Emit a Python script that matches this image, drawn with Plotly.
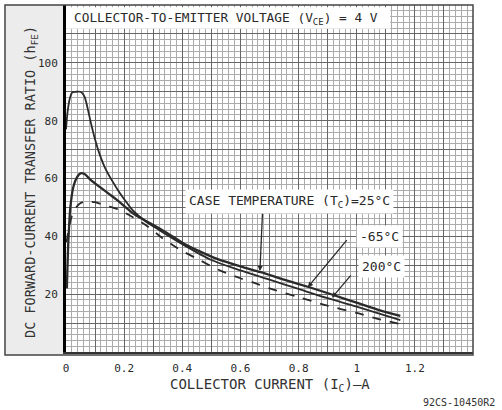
import plotly.graph_objects as go

# ---- data ----
x_200 = [0, 0.006, 0.014, 0.022, 0.035, 0.048, 0.056, 0.065, 0.075, 0.085, 0.1, 0.117,
         0.135, 0.16, 0.185, 0.21, 0.23, 0.27, 0.32, 0.4, 0.5, 0.6, 0.7, 0.8, 0.9, 1.0, 1.1, 1.15]
y_200 = [77, 83.5, 88, 89.8, 90, 90, 89.5, 88, 84, 79.5, 73.5, 68,
         63.5, 59, 55, 51.5, 49, 45.5, 42.2, 37.3, 31.8, 28.2, 25.0, 21.8, 18.6, 15.7, 12.6, 11]

x_25 = [0.003, 0.008, 0.015, 0.025, 0.038, 0.05, 0.065, 0.085, 0.117, 0.15, 0.176, 0.23, 0.29,
        0.35, 0.4, 0.46, 0.52, 0.6, 0.67, 0.75, 0.84, 0.92, 1.01, 1.08, 1.15]
y_25 = [22, 38, 50, 57, 60.5, 61.8, 61.5, 59.5, 57, 54.5, 52.5, 48, 44.5,
        41, 37.8, 34.8, 32.2, 29.6, 27.6, 25, 22.3, 19.7, 16.7, 14.4, 12.5]

x_m65 = [0.002, 0.01, 0.02, 0.035, 0.05, 0.065, 0.08, 0.1, 0.12, 0.15, 0.18, 0.23, 0.28, 0.33,
         0.39, 0.45, 0.53, 0.6, 0.645, 0.7, 0.8, 0.9, 1.0, 1.08, 1.15]
y_m65 = [38, 43, 47, 50, 51.5, 52, 52, 51.8, 51.2, 50.3, 49.3, 46.6, 43.5, 39.5,
         35.5, 32.3, 28.2, 25.5, 24, 22, 19, 16, 13.5, 11.3, 9.7]

x_tickvals = [0, 0.1, 0.2, 0.3, 0.4, 0.5, 0.6, 0.7, 0.8, 0.9, 1.0, 1.1, 1.2, 1.3, 1.4]
x_ticktext = ["0", " ", "0.2", " ", "0.4", " ", "0.6", " ", "0.8", " ", "1", " ", "1.2", " ", " "]
y_tickvals = [0, 10, 20, 30, 40, 50, 60, 70, 80, 90, 100, 110, 120]
y_ticktext = [" ", " ", "20", " ", "40", " ", "60", " ", "80", " ", "100", " ", " "]

ink = "#2a2a2a"
mono = "DejaVu Sans Mono"

fig = go.Figure()
fig.add_trace(go.Scatter(x=x_200, y=y_200, mode="lines",
                         line=dict(color=ink, width=1.8, shape="spline", smoothing=0.8),
                         name="200°C", showlegend=False))
fig.add_trace(go.Scatter(x=x_25, y=y_25, mode="lines",
                         line=dict(color=ink, width=2.3, shape="spline", smoothing=0.8),
                         name="25°C", showlegend=False))
fig.add_trace(go.Scatter(x=x_m65, y=y_m65, mode="lines",
                         line=dict(color=ink, width=1.8, dash="dash", shape="spline", smoothing=0.8),
                         name="-65°C", showlegend=False))

fig.update_layout(
    width=502, height=410,
    margin=dict(l=66, r=29, t=5, b=58),
    paper_bgcolor="white", plot_bgcolor="white",
    font=dict(family=mono, color=ink, size=11),
    xaxis=dict(range=[0, 1.4], tickvals=x_tickvals, ticktext=x_ticktext,
               showgrid=True, gridcolor="#666666", gridwidth=1,
               minor=dict(dtick=0.02, showgrid=True, gridcolor="#acacac", gridwidth=1),
               zeroline=False, showline=True, linecolor="#333", linewidth=1.5,
               ticks="", ticklabelstandoff=5, tickfont=dict(size=11, family=mono, color=ink)),
    yaxis=dict(range=[0, 120], tickvals=y_tickvals, ticktext=y_ticktext,
               showgrid=True, gridcolor="#666666", gridwidth=1,
               minor=dict(dtick=2, showgrid=True, gridcolor="#acacac", gridwidth=1),
               zeroline=False, showline=True, linecolor="black", linewidth=3,
               ticks="", ticklabelstandoff=3, tickfont=dict(size=11, family=mono, color=ink)),
)

# left grey panel and outer frame
fig.add_shape(type="rect", xref="paper", yref="paper", x0=-0.1499, x1=0, y0=-0.009, y1=1,
              fillcolor="#ececec", line=dict(width=0), layer="below")
fig.add_shape(type="rect", xref="paper", yref="paper", x0=-0.1499, x1=1, y0=-0.009, y1=1,
              fillcolor="rgba(0,0,0,0)", line=dict(color="#444", width=1.5), layer="above")

# title box
fig.add_shape(type="rect", xref="x", yref="y", x0=0, x1=1.115, y0=111.8, y1=119.2,
              fillcolor="white", line=dict(width=0), layer="above")
fig.add_annotation(xref="x", yref="y", x=0.022, y=115.5, xanchor="left", yanchor="middle",
                   text="COLLECTOR-TO-EMITTER VOLTAGE (V<sub>CE</sub>) = 4 V", showarrow=False,
                   font=dict(family=mono, size=12.8, color=ink))

# curve labels
label_font = dict(family=mono, size=13, color=ink)
fig.add_annotation(xref="x", yref="y", x=0.77, y=51.9, text="CASE TEMPERATURE (T<sub>C</sub>)=25°C",
                   showarrow=False, bgcolor="white", borderpad=3, font=label_font)
fig.add_annotation(xref="x", yref="y", x=1.077, y=39.8, text="-65°C",
                   showarrow=False, bgcolor="white", borderpad=3, font=label_font)
fig.add_annotation(xref="x", yref="y", x=1.084, y=29.4, text="200°C",
                   showarrow=False, bgcolor="white", borderpad=3, font=label_font)

# arrows
for tip, tail in [((0.667, 28.0), (0.676, 48.3)),
                  ((0.832, 22.4), (0.97, 39.2)),
                  ((0.915, 18.8), (0.984, 27.0))]:
    fig.add_annotation(xref="x", yref="y", axref="x", ayref="y", x=tip[0], y=tip[1],
                       ax=tail[0], ay=tail[1], text="", showarrow=True,
                       arrowhead=2, arrowsize=0.8, arrowwidth=1.3, arrowcolor=ink)

# axis titles and footer
fig.add_annotation(xref="paper", yref="paper", x=-0.113, y=0.49, textangle=-90,
                   text="DC FORWARD-CURRENT TRANSFER RATIO (h<sub>FE</sub>)", showarrow=False,
                   font=dict(family=mono, size=13.5, color="#333"))
fig.add_annotation(xref="paper", yref="paper", x=0.501, y=-0.095, yanchor="middle",
                   text="COLLECTOR CURRENT (I<sub>C</sub>)—A", showarrow=False,
                   font=dict(family=mono, size=14, color="#333"))
fig.add_annotation(xref="paper", yref="paper", x=1.06, y=-0.145, xanchor="right", yanchor="middle",
                   text="92CS-10450R2", showarrow=False,
                   font=dict(family=mono, size=10, color="#333"))

fig.write_html("out.html", config={"displayModeBar": False},
               post_script="document.body.style.margin='0';")
